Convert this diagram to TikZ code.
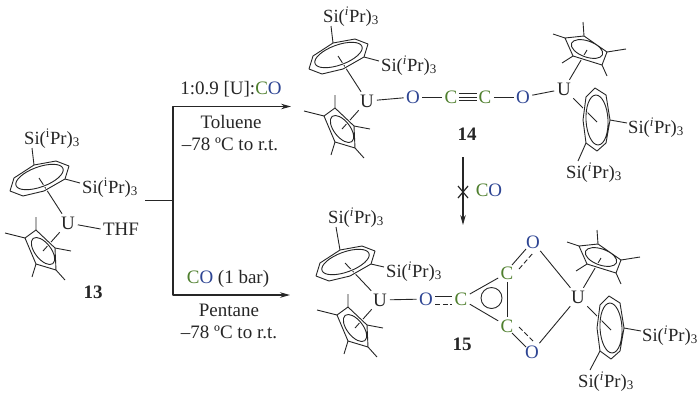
\documentclass[tikz,border=0pt]{standalone}
\usepackage{fontspec}
\setmainfont{Liberation Serif}
\usetikzlibrary{arrows.meta}
\definecolor{cgreen}{HTML}{4F7F2E}
\definecolor{oblue}{HTML}{2E4593}
\newcommand{\SiPr}[1]{Si(\textsuperscript{#1{i}}Pr)\textsubscript{3}}
\newcommand{\CO}{\textcolor{cgreen}{C}\textcolor{oblue}{O}}
\tikzset{
	atom/.style={inner sep=2pt},
	carbon/.style={atom,text=cgreen},
	oxygen/.style={atom,text=oblue},
	silyl/.style={anchor=base,inner sep=0pt,font=\fontsize{18.6}{20}\selectfont},
	note/.style={anchor=center,inner sep=0pt},
	label14/.style={font=\fontsize{19}{20}\selectfont\bfseries,inner sep=0pt},
	halo/.style={preaction={draw=white,line width=2.6pt}},
}
\begin{document}
\begin{tikzpicture}[x=1pt,y=-1pt,>={Stealth[length=10pt,width=5.5pt]},font=\fontsize{19}{20}\selectfont,line width=0.9pt,line join=round,color=black!85]
	\useasboundingbox (0,0) rectangle (700,400);
	% left units: 13, 14, 15
	\foreach \n/\rp/\cp/\st/\sr/\sty in {a/{0,0}/{0,0}/{52,144}/{110,193}/\textup,
		b/{299,-122}/{299,-122}/{351,22}/{409,71}/\textit,
		c/{306,85}/{312,77}/{356,223}/{414,277}/\textit}{
		\node[silyl] (sit\n) at (\st) {\SiPr{\sty}};
		\node[silyl] (sir\n) at (\sr) {\SiPr{\sty}};
		\begin{scope}[shift={(\cp)}]
			\node[atom,inner sep=2.5pt] (U\n) at (68,223) {U};
			\coordinate (cc\n) at (43,251);
			\draw (U\n) -- (cc\n);
			\draw[halo] (36,230)--(55,248)--(56,270)--(36,264)--(25,238)--cycle
				(43,251) ellipse [x radius=16,y radius=8,rotate=-52];
			\draw (36,230)--(36,217) (25,238)--(5,233) (55,248)--(71,251) (56,270)--(65,280) (36,264)--(32,277);
		\end{scope}
		\begin{scope}[shift={(\rp)}]
			\coordinate (rc\n) at (39,178);
			\coordinate (vt\n) at (34,165);
			\coordinate (vr\n) at (65,179);
			\draw (U\n) -- (rc\n);
			\draw[halo] (34,165)--(56,161)--(69,166)--(65,179)--(44,191)--(23,196)--(10,191)--(14,178)--cycle
				(39.5,177) ellipse [x radius=25,y radius=10,rotate=20];
		\end{scope}
		\draw (vt\n) -- ([shift={(-20,4)}]sit\n.base);
		\draw (vr\n) -- ([shift={(-30,-10)}]sir\n.base);
	}
	% right units: 14, 15
	\foreach \n/\rp/\sr/\sb in {d/{0,0}/{656,133}/{594,178},
		e/{14,208}/{670,341}/{606,387}}{
		\node[silyl] (sir\n) at (\sr) {\SiPr{\textit}};
		\node[silyl] (sib\n) at (\sb) {\SiPr{\textit}};
		\begin{scope}[shift={(\rp)}]
			\node[atom,inner sep=2.5pt] (U\n) at (564,89) {U};
			\coordinate (cc\n) at (587,50);
			\coordinate (rc\n) at (597,122);
			\coordinate (vr\n) at (610,120);
			\coordinate (vb\n) at (586,143);
			\draw (U\n) -- (cc\n);
			\draw (U\n) -- (rc\n);
			\draw[halo] (584,36)--(607,52)--(602,65)--(573,56)--(565,38)--cycle
				(587,49) ellipse [x radius=16.5,y radius=8,rotate=-20];
			\draw (584,36)--(583,22) (565,38)--(553,34) (607,52)--(626,49) (602,65)--(607,76) (573,56)--(562,63);
			\draw[halo] (595,88)--(606,95)--(610,120)--(606,143)--(597,151)--(586,143)--(583,120)--(586,97)--cycle
				(597,120) ellipse [x radius=11,y radius=25,rotate=3];
		\end{scope}
		\draw (vr\n) -- ([shift={(-29,-10)}]sir\n.base);
		\draw (vb\n) -- ([shift={(-16,-17)}]sib\n.base);
	}
	% 13
	\node[atom] (thf) at (121,229) {THF};
	\draw (Ua) -- (thf.west);
	\node[label14] (n13) at (93,292) {13};
	% 14
	\node[oxygen] (Ob) at (413,97) {O};
	\node[carbon] (Cb) at (451,97) {C};
	\node[carbon] (Cd) at (485,97) {C};
	\node[oxygen] (Od) at (523,97) {O};
	\draw (Ub) -- (Ob);
	\draw (Ob) -- (Cb);
	\draw (Cd) -- (Od);
	\draw (Od) -- (Ud);
	\foreach \s in {-3.5,0,3.5}
		\draw ([shift={(-1,\s)}]Cb.east) -- ([shift={(1,\s)}]Cd.west);
	\node[label14] (n14) at (467,134) {14};
	% 15
	\node[oxygen] (Oc) at (426,299) {O};
	\node[carbon] (Cc) at (461,299) {C};
	\node[carbon] (Ct) at (507,273) {C};
	\node[carbon] (Cl) at (507,326) {C};
	\node[oxygen] (Ot) at (533,242) {O};
	\node[oxygen] (Ol) at (532,352) {O};
	\coordinate (cyc) at (491.5,298);
	\draw (Uc) -- (Oc);
	\draw ([shift={(0,-2.5)}]Oc.east) -- ([shift={(0,-2.5)}]Cc.west);
	\draw[dash pattern=on 5pt off 2.5pt] ([shift={(0,5.5)}]Oc.east) -- ([shift={(0,5.5)}]Cc.west);
	\draw (Cc) -- (Ct);
	\draw (Cc) -- (Cl);
	\draw (Ct) -- (Cl);
	\draw (cyc) circle [radius=10.5];
	\draw ([shift={(5,-8)}]Ct.center) -- ([shift={(-7,7)}]Ot.center);
	\draw[dash pattern=on 5pt off 2.5pt] ([shift={(12,-4)}]Ct.center) -- ([shift={(0,11)}]Ot.center);
	\draw ([shift={(5,7)}]Cl.center) -- ([shift={(-6,-5)}]Ol.center);
	\draw[dash pattern=on 5pt off 2.5pt] ([shift={(12,1)}]Cl.center) -- ([shift={(1,-11)}]Ol.center);
	\draw (Ot) -- (Ue);
	\draw (Ol) -- (Ue);
	\node[label14] (n15) at (462,344) {15};
	% scheme arrows
	\coordinate (feed) at (145,200.5);
	\coordinate (fork) at (173,200.5);
	\coordinate (forkt) at (173,106.5);
	\coordinate (forkb) at (173,295);
	\coordinate (endt) at (291,106.5);
	\coordinate (endb) at (290,295);
	\draw[line width=1.1pt] (feed) -- (fork);
	\draw[line width=1.1pt,->] (fork) -- (forkt) -- (endt);
	\draw[line width=1.1pt,->] (fork) -- (forkb) -- (endb);
	\node[note] (cond1) at (231,89) {1:0.9 [U]:\CO};
	\node[note] (solv1) at (231,122) {Toluene};
	\node[note] (temp1) at (230,144) {–78 ºC to r.t.};
	\node[note] (cond2) at (228,279) {\CO{} (1 bar)};
	\node[note] (solv2) at (229,310) {Pentane};
	\node[note] (temp2) at (229,332) {–78 ºC to r.t.};
	% blocked step
	\coordinate (vtop) at (463,157);
	\coordinate (vbot) at (463,225);
	\coordinate (xmark) at (463,192);
	\draw[line width=1.1pt,->] (vtop) -- (vbot);
	\draw[line width=1.2pt] ([shift={(-5,-6)}]xmark) -- ([shift={(5,6)}]xmark);
	\draw[line width=1.2pt] ([shift={(5,-6)}]xmark) -- ([shift={(-5,6)}]xmark);
	\node[note] (co) at (489,190) {\CO};
\end{tikzpicture}
\end{document}
